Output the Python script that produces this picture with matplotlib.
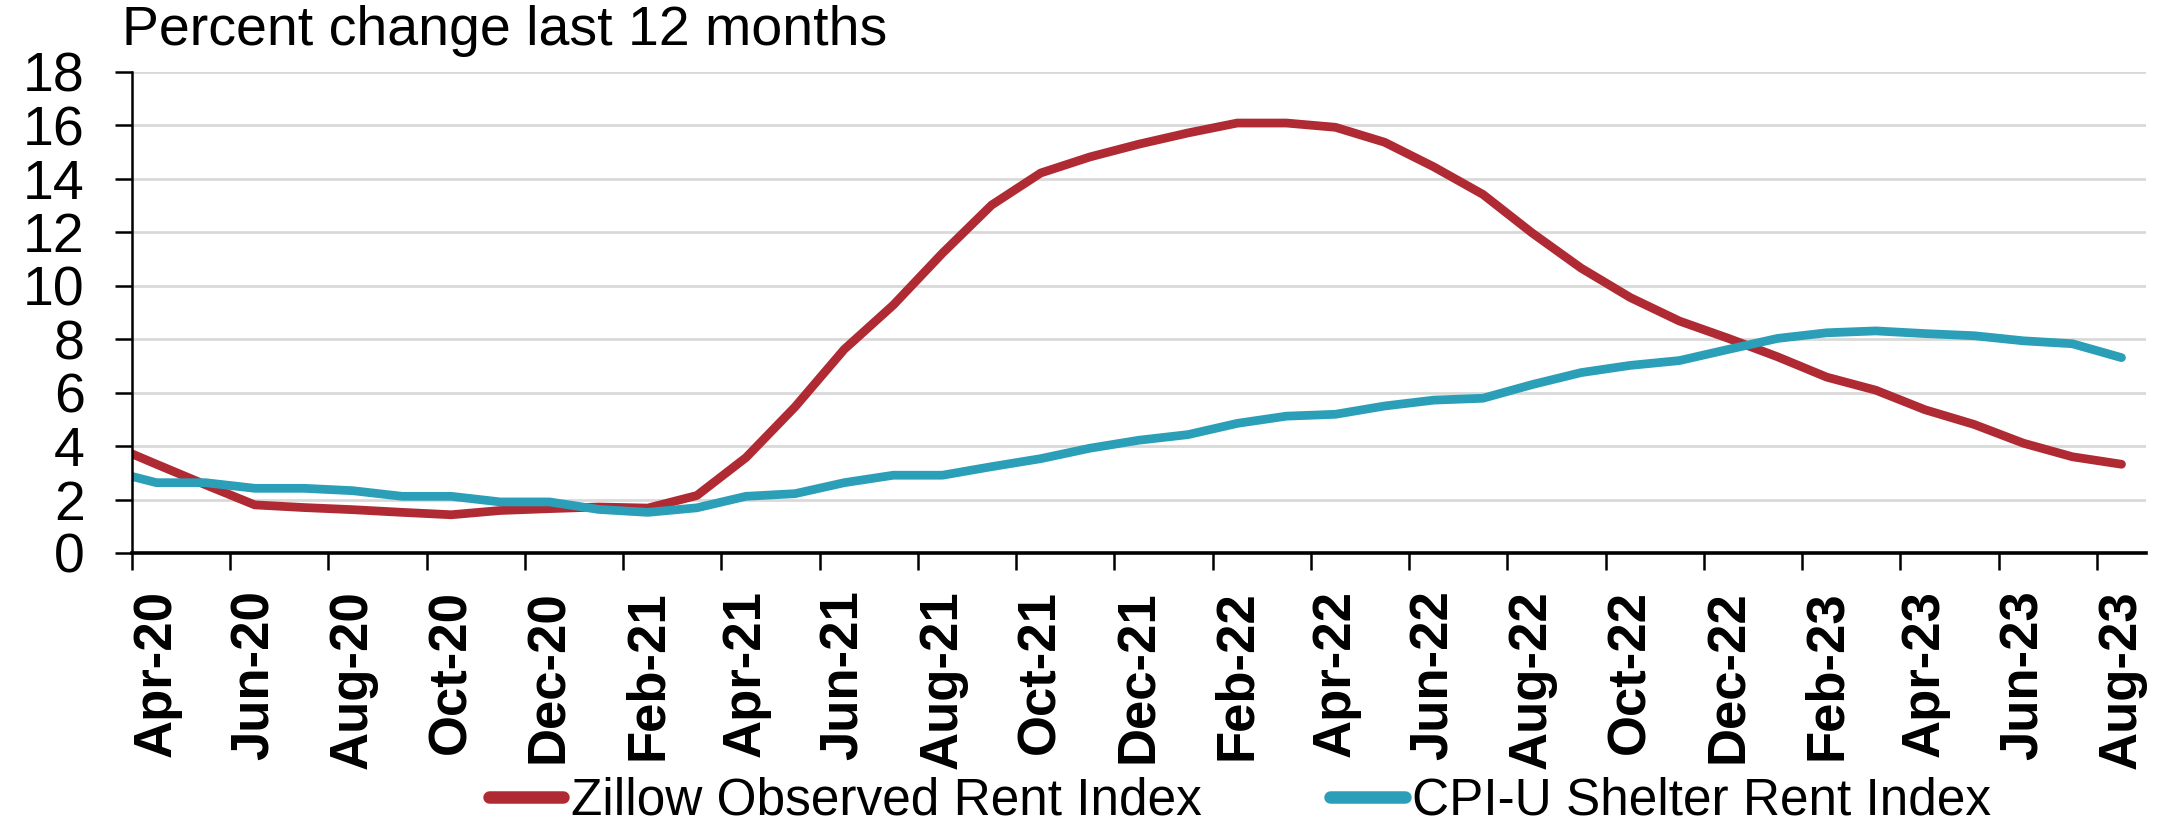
import numpy as np
import matplotlib
matplotlib.use('Agg')
from matplotlib import pyplot as plt

# monthly data, Mar-20 .. Aug-23 (Mar-20 sits just left of the visible range)
zillow = [4.1, 3.32, 2.55, 1.80, 1.70, 1.62, 1.52, 1.43, 1.59, 1.66, 1.72, 1.68,
          2.15, 3.57, 5.47, 7.62, 9.28, 11.22, 13.02, 14.22, 14.82, 15.30, 15.72,
          16.09, 16.09, 15.93, 15.37, 14.45, 13.42, 11.98, 10.66, 9.56, 8.68, 8.03,
          7.34, 6.58, 6.09, 5.36, 4.81, 4.11, 3.60, 3.32]
cpi = [3.1, 2.63, 2.63, 2.42, 2.42, 2.33, 2.12, 2.12, 1.91, 1.91, 1.63, 1.52,
       1.69, 2.12, 2.22, 2.63, 2.91, 2.91, 3.23, 3.53, 3.92, 4.22, 4.43, 4.85,
       5.12, 5.19, 5.50, 5.72, 5.79, 6.30, 6.75, 7.02, 7.20, 7.62, 8.03, 8.24,
       8.31, 8.21, 8.13, 7.94, 7.83, 7.31]
tick_labels = ['Apr-20', 'Jun-20', 'Aug-20', 'Oct-20', 'Dec-20', 'Feb-21', 'Apr-21',
               'Jun-21', 'Aug-21', 'Oct-21', 'Dec-21', 'Feb-22', 'Apr-22', 'Jun-22',
               'Aug-22', 'Oct-22', 'Dec-22', 'Feb-23', 'Apr-23', 'Jun-23', 'Aug-23']
series_names = ['Zillow Observed Rent Index', 'CPI-U Shelter Rent Index']
yticks = list(range(0, 19, 2))

RED = '#B02A33'
TEAL = '#2B9FB7'

plt.rcParams['font.family'] = ['Liberation Sans', 'DejaVu Sans']

fig = plt.figure(figsize=(21.66, 8.4), dpi=100)
ax = fig.add_axes([0.0609, 0.3417, 0.9299, 0.5726])

x = np.arange(-1, len(zillow) - 1)
ax.plot(x, zillow, color=RED, lw=6.3, solid_capstyle='round', label=series_names[0])
ax.plot(x, cpi, color=TEAL, lw=6.3, solid_capstyle='round', label=series_names[1])

ax.set_xlim(-0.5, 40.5)
ax.set_ylim(0, 18)

# ticks on category boundaries, labels on category centres
ax.set_xticks(np.arange(-0.5, 40, 2))
ax.set_xticklabels([])
ax.set_xticks(np.arange(0, 41, 2), minor=True)
ax.set_xticklabels(tick_labels, minor=True, rotation=90, fontsize=38,
                   fontweight='bold', va='top')
ax.tick_params(axis='x', which='major', direction='out', length=12, width=1.8)
ax.tick_params(axis='x', which='minor', length=0, pad=27)

ax.set_yticks(yticks)
ax.set_yticklabels([str(v) for v in yticks], fontsize=40)
ax.tick_params(axis='y', direction='out', length=12, width=1.8, pad=22)

ax.grid(axis='y', color='#D9D9D9', lw=2)
ax.set_axisbelow(True)
for s in ['top', 'right']:
    ax.spines[s].set_visible(False)
ax.spines['left'].set_linewidth(1.8)
ax.spines['bottom'].set_linewidth(2.6)

fig.text(0.0563, 0.946, 'Percent change last 12 months', fontsize=40, va='baseline', ha='left')

leg = fig.legend(loc='center', bbox_to_anchor=(0.5725, 0.046), ncol=2, frameon=False,
                 fontsize=37, handlelength=1.45, handletextpad=0.15, columnspacing=2.5)
for h in leg.get_lines():
    h.set_linewidth(9)

fig.savefig('out.png', dpi=100)
